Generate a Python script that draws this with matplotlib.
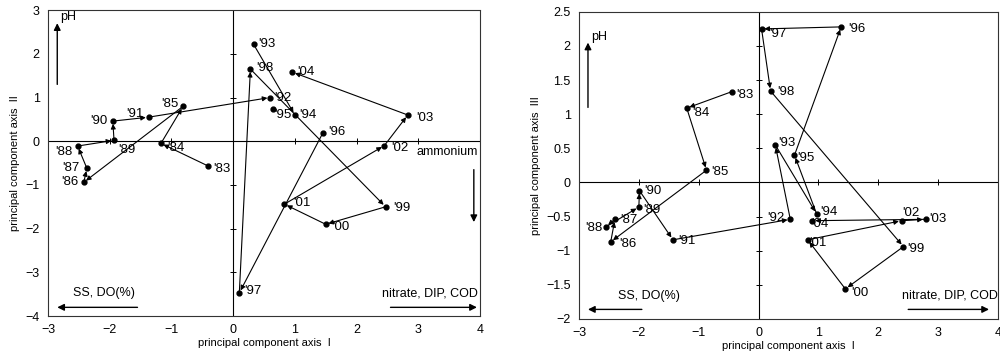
import numpy as np
import matplotlib
matplotlib.use("Agg")
import matplotlib.pyplot as plt

years = ["'83", "'84", "'85", "'86", "'87", "'88", "'89", "'90", "'91", "'92", "'93",
         "'94", "'95", "'96", "'97", "'98", "'99", "'00", "'01", "'02", "'03", "'04"]

# axis I scores (left panel) and axis II scores
pc1_a = [-0.40, -1.17, -0.81, -2.42, -2.37, -2.52, -1.93, -1.95, -1.37, 0.60, 0.33,
         1.00, 0.65, 1.45, 0.10, 0.28, 2.47, 1.50, 0.83, 2.45, 2.83, 0.96]
pc2 = [-0.57, -0.05, 0.80, -0.94, -0.62, -0.11, 0.02, 0.46, 0.55, 1.00, 2.22,
       0.60, 0.74, 0.18, -3.47, 1.65, -1.50, -1.90, -1.44, -0.10, 0.60, 1.58]
# segments not drawn in the left panel (start year)
gaps_a = ["'92", "'94", "'95"]

# axis I scores (right panel) and axis III scores
pc1_b = [-0.45, -1.20, -0.87, -2.47, -2.40, -2.55, -2.00, -1.99, -1.43, 0.53, 0.28,
         0.97, 0.60, 1.38, 0.05, 0.20, 2.42, 1.45, 0.82, 2.39, 2.79, 0.90]
pc3 = [1.33, 1.09, 0.18, -0.87, -0.54, -0.65, -0.36, -0.12, -0.84, -0.54, 0.55,
       -0.46, 0.40, 2.28, 2.25, 1.34, -0.94, -1.56, -0.84, -0.56, -0.54, -0.56]
gaps_b = []

xticks = [-3, -2, -1, 0, 1, 2, 3, 4]
yticks_a = [-4, -3, -2, -1, 0, 1, 2, 3]
yticks_b = [-2, -1.5, -1, -0.5, 0, 0.5, 1, 1.5, 2, 2.5]

# label offsets in pixels (dx, dy, ha)
off_a = {"'83": (5, -3, 'left'), "'84": (6, -5, 'left'), "'85": (-5, 2, 'right'),
         "'86": (-5, 0, 'right'), "'87": (-7, 0, 'right'), "'88": (-5, -6, 'right'),
         "'89": (4, -10, 'left'), "'90": (-5, 0, 'right'), "'91": (-5, 3, 'right'),
         "'92": (4, 0, 'left'), "'93": (5, 0, 'left'), "'94": (4, 0, 'left'),
         "'95": (1, -6, 'left'), "'96": (6, 1, 'left'), "'97": (5, 2, 'left'),
         "'98": (6, 1, 'left'), "'99": (8, -1, 'left'), "'00": (7, -3, 'left'),
         "'01": (9, 1, 'left'), "'02": (7, -2, 'left'), "'03": (8, -3, 'left'),
         "'04": (5, 0, 'left')}
off_b = {"'83": (5, -3, 'left'), "'84": (6, -5, 'left'), "'85": (5, -2, 'left'),
         "'86": (9, -2, 'left'), "'87": (5, -1, 'left'), "'88": (-3, -1, 'right'),
         "'89": (4, -3, 'left'), "'90": (5, 0, 'left'), "'91": (5, -1, 'left'),
         "'92": (-6, 1, 'right'), "'93": (3, 2, 'left'), "'94": (4, 2, 'left'),
         "'95": (3, -3, 'left'), "'96": (7, -2, 'left'), "'97": (8, -5, 'left'),
         "'98": (7, -1, 'left'), "'99": (4, -2, 'left'), "'00": (6, -4, 'left'),
         "'01": (2, -3, 'left'), "'02": (1, 8, 'left'), "'03": (4, 0, 'left'),
         "'04": (-1, -3, 'left')}

plt.rcParams['font.family'] = ['Liberation Sans', 'DejaVu Sans']
fig = plt.figure(figsize=(10, 3.6), dpi=100)

# style for the loading arrows
ak = dict(arrowstyle='-|>', color='k', lw=1.0, mutation_scale=10, shrinkA=0, shrinkB=0)


def draw_panel(ax, xs, ys, gaps, offs, ylim, yticks, ylabel, ph_y):
    ax.set_xlim(-3, 4)
    ax.set_ylim(ylim)
    ax.axhline(0, color='k', lw=0.8)
    ax.axvline(0, color='k', lw=0.8)
    # little crossing ticks on the inner axes
    ax.plot(xticks, np.zeros(len(xticks)), ls='none', marker='|', ms=5, color='k', mew=0.7)
    ax.plot(np.zeros(len(yticks)), yticks, ls='none', marker='_', ms=5, color='k', mew=0.7)

    for i in range(len(xs) - 1):
        if years[i] in gaps:
            continue
        ax.annotate('', xy=(xs[i + 1], ys[i + 1]), xytext=(xs[i], ys[i]),
                    arrowprops=dict(arrowstyle='-|>', color='k', lw=0.8,
                                    shrinkA=0, shrinkB=2, mutation_scale=7))
    ax.plot(xs, ys, ls='none', marker='o', ms=3.5, color='k')
    for yr, x, y in zip(years, xs, ys):
        dx, dy, ha = offs[yr]
        ax.annotate(yr, (x, y), xytext=(dx, dy), textcoords='offset pixels',
                    ha=ha, va='center', fontsize=9.5)

    ax.set_xticks(xticks)
    ax.set_yticks(yticks)
    ax.set_yticklabels([('%g' % t).replace('-', '\u2212') for t in yticks])
    ax.tick_params(length=0, labelsize=9, pad=6)
    ax.set_xlabel('principal component axis  I', fontsize=8, labelpad=1)
    ax.set_ylabel(ylabel, fontsize=8, labelpad=4)
    for s in ax.spines.values():
        s.set_linestyle((0, (3, 1)))
        s.set_linewidth(0.8)
        s.set_color('#333333')

    ax.annotate('', xy=(-2.85, ph_y[1]), xytext=(-2.85, ph_y[0]), arrowprops=ak)
    ax.text(-2.8, ph_y[1], 'pH', fontsize=9, va='bottom')


ax1 = fig.add_axes([0.048, 0.122, 0.432, 0.850])
draw_panel(ax1, pc1_a, pc2, gaps_a, off_a, (-4, 3), yticks_a,
           'principal component axis  II', (1.3, 2.7))
ax1.annotate('', xy=(-2.85, -3.8), xytext=(-1.55, -3.8), arrowprops=ak)
ax1.text(-2.6, -3.62, 'SS, DO(%)', fontsize=9, va='bottom')
ax1.annotate('', xy=(3.95, -3.8), xytext=(2.55, -3.8), arrowprops=ak)
ax1.text(3.97, -3.62, 'nitrate, DIP, COD', fontsize=9, va='bottom', ha='right')
ax1.annotate('', xy=(3.9, -1.85), xytext=(3.9, -0.65), arrowprops=ak)
ax1.text(3.97, -0.25, 'ammonium', fontsize=9, va='center', ha='right')

ax2 = fig.add_axes([0.579, 0.114, 0.419, 0.853])
draw_panel(ax2, pc1_b, pc3, gaps_b, off_b, (-2, 2.5), yticks_b,
           'principal component axis  III', (1.1, 2.05))
ax2.annotate('', xy=(-2.85, -1.86), xytext=(-1.95, -1.86), arrowprops=ak)
ax2.text(-2.35, -1.75, 'SS, DO(%)', fontsize=9, va='bottom')
ax2.annotate('', xy=(3.85, -1.86), xytext=(2.5, -1.86), arrowprops=ak)
ax2.text(3.99, -1.75, 'nitrate, DIP, COD', fontsize=9, va='bottom', ha='right')

fig.savefig('out.png', dpi=100)
